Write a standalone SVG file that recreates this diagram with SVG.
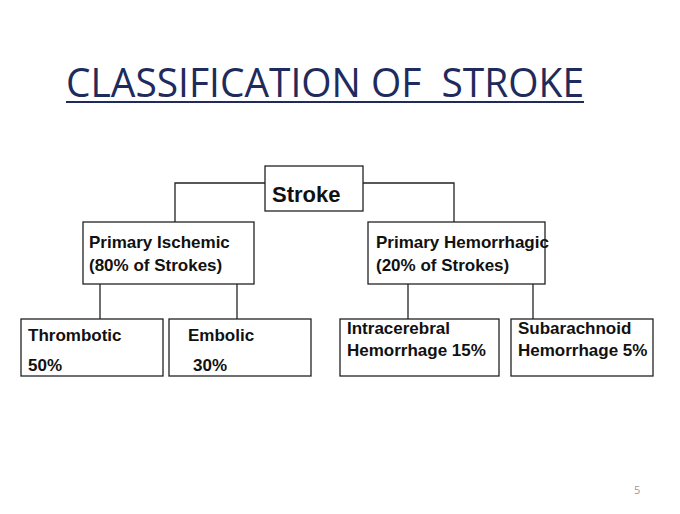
<svg xmlns="http://www.w3.org/2000/svg" width="680" height="514" viewBox="0 0 680 514">
<style>
.box{fill:#fff;stroke:#222;stroke-width:1.3}
.lbl{font-family:"Liberation Sans",Arial,sans-serif;font-weight:bold;font-size:17px;fill:#111}
.big{font-size:22px}
.con{fill:none;stroke:#222;stroke-width:1.3}
</style>
<rect width="680" height="514" fill="#fff"/>
<g id="title">
<text x="66" y="97" font-family="'Open Sans','Noto Sans',sans-serif" font-size="40" fill="#1f2b5c" textLength="518" lengthAdjust="spacingAndGlyphs" xml:space="preserve" style="white-space:pre">CLASSIFICATION OF  STROKE</text>
<line x1="66" y1="102" x2="584" y2="102" stroke="#1f2b5c" stroke-width="2"/>
</g>
<g id="connectors">
<polyline class="con" points="265,183 175,183 175,222"/>
<polyline class="con" points="363,183 454,183 454,222"/>
<line class="con" x1="100" y1="284" x2="100" y2="319"/>
<line class="con" x1="237" y1="284" x2="237" y2="319"/>
<line class="con" x1="408" y1="284" x2="408" y2="319"/>
<line class="con" x1="533" y1="284" x2="533" y2="319"/>
</g>
<g id="stroke">
<rect class="box" x="265" y="166" width="98" height="45"/>
<text class="lbl big" x="272" y="202">Stroke</text>
</g>
<g id="ischemic">
<rect class="box" x="83" y="222" width="171" height="62"/>
<text class="lbl" x="89" y="248">Primary Ischemic</text>
<text class="lbl" x="89" y="271">(80% of Strokes)</text>
</g>
<g id="hemorrhagic">
<rect class="box" x="368" y="222" width="177" height="62"/>
<text class="lbl" x="376" y="248">Primary Hemorrhagic</text>
<text class="lbl" x="376" y="271">(20% of Strokes)</text>
</g>
<g id="thrombotic">
<rect class="box" x="21" y="319" width="142" height="57"/>
<text class="lbl" x="28" y="341">Thrombotic</text>
<text class="lbl" x="28" y="371">50%</text>
</g>
<g id="embolic">
<rect class="box" x="169" y="319" width="142" height="57"/>
<text class="lbl" x="188" y="341">Embolic</text>
<text class="lbl" x="193" y="371">30%</text>
</g>
<g id="intracerebral">
<rect class="box" x="340" y="319" width="159" height="57"/>
<text class="lbl" x="347" y="334">Intracerebral</text>
<text class="lbl" x="347" y="356">Hemorrhage 15%</text>
</g>
<g id="subarachnoid">
<rect class="box" x="511" y="319" width="142" height="57"/>
<text class="lbl" x="518" y="334">Subarachnoid</text>
<text class="lbl" x="518" y="356">Hemorrhage 5%</text>
</g>
<text x="634" y="494" font-family="'Open Sans','Liberation Sans',sans-serif" font-size="11" fill="#999">5</text>
</svg>
